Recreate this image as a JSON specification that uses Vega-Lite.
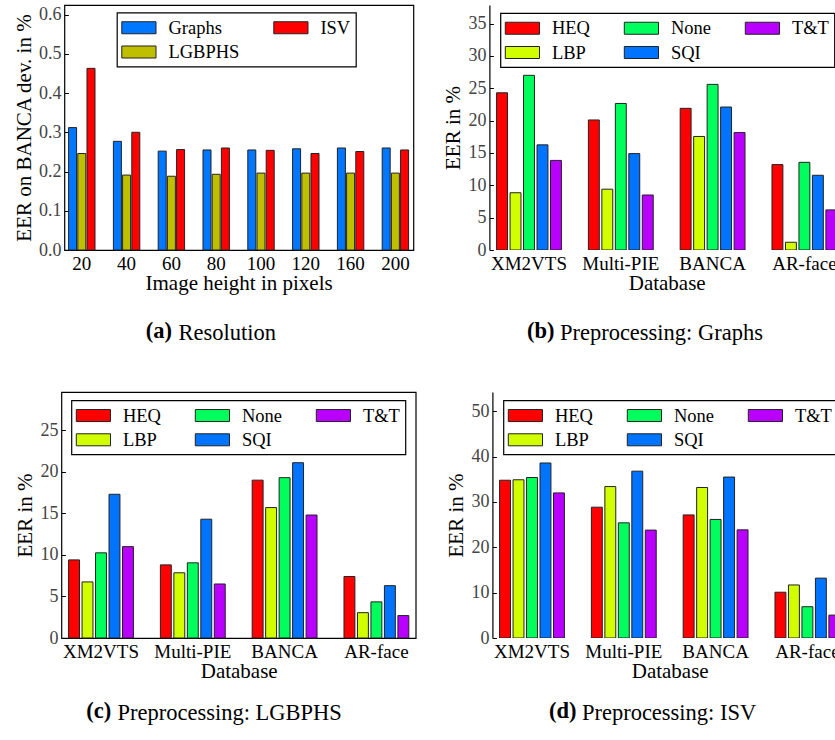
{
  "$schema": "https://vega.github.io/schema/vega-lite/v6.json",
  "padding": {"left": 12, "top": 4, "right": 0, "bottom": 0},
  "spacing": 45,
  "center": true,
  "resolve": {"scale": {"x": "independent", "y": "independent", "xOffset": "independent", "color": "independent"}, "legend": {"color": "independent"}},
  "datasets": {
    "resolution": [
      {"height": "20", "method": "Graphs", "eer": 0.312}, {"height": "20", "method": "LGBPHS", "eer": 0.246}, {"height": "20", "method": "ISV", "eer": 0.463},
      {"height": "40", "method": "Graphs", "eer": 0.277}, {"height": "40", "method": "LGBPHS", "eer": 0.191}, {"height": "40", "method": "ISV", "eer": 0.300},
      {"height": "60", "method": "Graphs", "eer": 0.252}, {"height": "60", "method": "LGBPHS", "eer": 0.188}, {"height": "60", "method": "ISV", "eer": 0.256},
      {"height": "80", "method": "Graphs", "eer": 0.255}, {"height": "80", "method": "LGBPHS", "eer": 0.193}, {"height": "80", "method": "ISV", "eer": 0.260},
      {"height": "100", "method": "Graphs", "eer": 0.255}, {"height": "100", "method": "LGBPHS", "eer": 0.196}, {"height": "100", "method": "ISV", "eer": 0.254},
      {"height": "120", "method": "Graphs", "eer": 0.258}, {"height": "120", "method": "LGBPHS", "eer": 0.196}, {"height": "120", "method": "ISV", "eer": 0.246},
      {"height": "160", "method": "Graphs", "eer": 0.260}, {"height": "160", "method": "LGBPHS", "eer": 0.196}, {"height": "160", "method": "ISV", "eer": 0.251},
      {"height": "200", "method": "Graphs", "eer": 0.260}, {"height": "200", "method": "LGBPHS", "eer": 0.196}, {"height": "200", "method": "ISV", "eer": 0.255}
    ],
    "graphs": [
      {"db": "XM2VTS", "method": "HEQ", "eer": 24.3}, {"db": "XM2VTS", "method": "LBP", "eer": 8.85}, {"db": "XM2VTS", "method": "None", "eer": 27.0}, {"db": "XM2VTS", "method": "SQI", "eer": 16.25}, {"db": "XM2VTS", "method": "T&T", "eer": 13.85},
      {"db": "Multi-PIE", "method": "HEQ", "eer": 20.1}, {"db": "Multi-PIE", "method": "LBP", "eer": 9.4}, {"db": "Multi-PIE", "method": "None", "eer": 22.65}, {"db": "Multi-PIE", "method": "SQI", "eer": 14.9}, {"db": "Multi-PIE", "method": "T&T", "eer": 8.5},
      {"db": "BANCA", "method": "HEQ", "eer": 21.9}, {"db": "BANCA", "method": "LBP", "eer": 17.55}, {"db": "BANCA", "method": "None", "eer": 25.6}, {"db": "BANCA", "method": "SQI", "eer": 22.1}, {"db": "BANCA", "method": "T&T", "eer": 18.15},
      {"db": "AR-face", "method": "HEQ", "eer": 13.2}, {"db": "AR-face", "method": "LBP", "eer": 1.2}, {"db": "AR-face", "method": "None", "eer": 13.55}, {"db": "AR-face", "method": "SQI", "eer": 11.55}, {"db": "AR-face", "method": "T&T", "eer": 6.2}
    ],
    "lgbphs": [
      {"db": "XM2VTS", "method": "HEQ", "eer": 9.4}, {"db": "XM2VTS", "method": "LBP", "eer": 6.75}, {"db": "XM2VTS", "method": "None", "eer": 10.25}, {"db": "XM2VTS", "method": "SQI", "eer": 17.3}, {"db": "XM2VTS", "method": "T&T", "eer": 11.0},
      {"db": "Multi-PIE", "method": "HEQ", "eer": 8.8}, {"db": "Multi-PIE", "method": "LBP", "eer": 7.85}, {"db": "Multi-PIE", "method": "None", "eer": 9.05}, {"db": "Multi-PIE", "method": "SQI", "eer": 14.3}, {"db": "Multi-PIE", "method": "T&T", "eer": 6.5},
      {"db": "BANCA", "method": "HEQ", "eer": 19.0}, {"db": "BANCA", "method": "LBP", "eer": 15.7}, {"db": "BANCA", "method": "None", "eer": 19.3}, {"db": "BANCA", "method": "SQI", "eer": 21.1}, {"db": "BANCA", "method": "T&T", "eer": 14.8},
      {"db": "AR-face", "method": "HEQ", "eer": 7.4}, {"db": "AR-face", "method": "LBP", "eer": 3.05}, {"db": "AR-face", "method": "None", "eer": 4.35}, {"db": "AR-face", "method": "SQI", "eer": 6.3}, {"db": "AR-face", "method": "T&T", "eer": 2.7}
    ],
    "isv": [
      {"db": "XM2VTS", "method": "HEQ", "eer": 34.8}, {"db": "XM2VTS", "method": "LBP", "eer": 34.9}, {"db": "XM2VTS", "method": "None", "eer": 35.4}, {"db": "XM2VTS", "method": "SQI", "eer": 38.6}, {"db": "XM2VTS", "method": "T&T", "eer": 32.0},
      {"db": "Multi-PIE", "method": "HEQ", "eer": 28.85}, {"db": "Multi-PIE", "method": "LBP", "eer": 33.4}, {"db": "Multi-PIE", "method": "None", "eer": 25.4}, {"db": "Multi-PIE", "method": "SQI", "eer": 36.8}, {"db": "Multi-PIE", "method": "T&T", "eer": 23.8},
      {"db": "BANCA", "method": "HEQ", "eer": 27.15}, {"db": "BANCA", "method": "LBP", "eer": 33.2}, {"db": "BANCA", "method": "None", "eer": 26.15}, {"db": "BANCA", "method": "SQI", "eer": 35.5}, {"db": "BANCA", "method": "T&T", "eer": 23.85},
      {"db": "AR-face", "method": "HEQ", "eer": 10.1}, {"db": "AR-face", "method": "LBP", "eer": 11.7}, {"db": "AR-face", "method": "None", "eer": 6.9}, {"db": "AR-face", "method": "SQI", "eer": 13.2}, {"db": "AR-face", "method": "T&T", "eer": 5.05}
    ]
  },
  "vconcat": [
    {
      "spacing": 19,
      "resolve": {"scale": {"x": "independent", "y": "independent", "xOffset": "independent", "color": "independent"}, "legend": {"color": "independent"}},
      "hconcat": [
        {
          "title": {"text": "(a)", "fontWeight": "bold", "dx": 133, "dy": -29},
          "vconcat": [
            {
              "width": 349, "height": 245,
              "data": {"name": "resolution"},
              "title": {"text": "Resolution", "dx": 165, "offset": 29},
              "mark": {"type": "bar", "stroke": "#222", "strokeWidth": 1},
              "encoding": {
                "x": {"field": "height", "type": "nominal", "sort": ["20", "40", "60", "80", "100", "120", "160", "200"],
                  "scale": {"range": [-5, 353.4], "paddingInner": 0, "paddingOuter": 0},
                  "axis": {"title": "Image height in pixels", "labelAngle": 0, "ticks": false, "domain": false, "labelPadding": 4, "titlePadding": -1}},
                "xOffset": {"field": "method", "type": "nominal", "sort": ["Graphs", "LGBPHS", "ISV"], "scale": {"paddingInner": 0.13, "paddingOuter": 1.1}},
                "y": {"field": "eer", "type": "quantitative", "scale": {"domain": [0, 0.6245], "nice": false},
                  "axis": {"title": "EER on BANCA dev. in %", "values": [0, 0.1, 0.2, 0.3, 0.4, 0.5, 0.6], "format": ".1f", "tickSize": -4, "labelPadding": 7.5, "domain": false, "grid": false}},
                "color": {"field": "method", "type": "nominal",
                  "scale": {"domain": ["Graphs", "LGBPHS", "ISV"], "range": ["#0077ff", "#bfbf00", "#ff0000"]},
                  "legend": {"orient": "none", "legendX": 52.5, "legendY": 7.5, "columns": 2, "title": null}}
              }
            }
          ]
        },
        {
          "title": {"text": "(b)", "fontWeight": "bold", "dx": 84, "dy": -29},
          "vconcat": [
            {
              "width": 346, "height": 245,
              "view": {"stroke": null},
              "title": {"text": "Preprocessing: Graphs", "dx": 117, "offset": 29},
              "layer": [
                {
                  "data": {"name": "graphs"},
                  "mark": {"type": "bar", "stroke": "#222", "strokeWidth": 1, "clip": true},
                  "encoding": {
                    "x": {"field": "db", "type": "nominal", "sort": ["XM2VTS", "Multi-PIE", "BANCA", "AR-face"],
                      "scale": {"range": [-6.3, 360.9], "paddingInner": 0, "paddingOuter": 0},
                      "axis": {"title": "Database", "labelAngle": 0, "ticks": false, "domain": false, "labelPadding": 4, "titlePadding": -1}},
                    "xOffset": {"field": "method", "type": "nominal", "sort": ["HEQ", "LBP", "None", "SQI", "T&T"], "scale": {"paddingInner": 0.19, "paddingOuter": 1.122}},
                    "y": {"field": "eer", "type": "quantitative", "scale": {"domain": [0, 37.87], "nice": false},
                      "axis": {"title": "EER in %", "values": [0, 5, 10, 15, 20, 25, 30, 35], "tickSize": -4, "labelPadding": 7.5, "domain": true, "grid": false}},
                    "color": {"field": "method", "type": "nominal",
                      "scale": {"domain": ["HEQ", "LBP", "None", "SQI", "T&T"], "range": ["#ff0000", "#d1ff00", "#00ff5c", "#0074ff", "#b900ff"]},
                      "legend": {"orient": "none", "legendX": 11, "legendY": 8, "columns": 3, "title": null}}
                  }
                },
                {"mark": {"type": "rule", "color": "black", "strokeWidth": 1.2},
                  "encoding": {"y": {"datum": 37.87, "type": "quantitative", "scale": {"domain": [0, 37.87], "nice": false},
                    "axis": {"title": "EER in %", "values": [0, 5, 10, 15, 20, 25, 30, 35], "tickSize": -4, "labelPadding": 7.5, "domain": true, "grid": false}}}},
                {"mark": {"type": "rule", "color": "black", "strokeWidth": 1.2},
                  "encoding": {"y": {"datum": 0, "type": "quantitative", "scale": {"domain": [0, 37.87], "nice": false},
                    "axis": {"title": "EER in %", "values": [0, 5, 10, 15, 20, 25, 30, 35], "tickSize": -4, "labelPadding": 7.5, "domain": true, "grid": false}}}}
              ]
            }
          ]
        }
      ]
    },
    {
      "spacing": 16,
      "resolve": {"scale": {"x": "independent", "y": "independent", "xOffset": "independent", "color": "independent"}, "legend": {"color": "independent"}},
      "hconcat": [
        {
          "title": {"text": "(c)", "fontWeight": "bold", "dx": 72, "dy": -29},
          "vconcat": [
            {
              "width": 354.3, "height": 246,
              "data": {"name": "lgbphs"},
              "title": {"text": "Preprocessing: LGBPHS", "dx": 102.6, "offset": 21},
              "mark": {"type": "bar", "stroke": "#222", "strokeWidth": 1},
              "encoding": {
                "x": {"field": "db", "type": "nominal", "sort": ["XM2VTS", "Multi-PIE", "BANCA", "AR-face"],
                  "scale": {"range": [-6.3, 360.9], "paddingInner": 0, "paddingOuter": 0},
                  "axis": {"title": "Database", "labelAngle": 0, "ticks": false, "domain": false, "labelPadding": 4, "titlePadding": -1}},
                "xOffset": {"field": "method", "type": "nominal", "sort": ["HEQ", "LBP", "None", "SQI", "T&T"], "scale": {"paddingInner": 0.19, "paddingOuter": 1.122}},
                "y": {"field": "eer", "type": "quantitative", "scale": {"domain": [0, 29.61], "nice": false},
                  "axis": {"title": "EER in %", "values": [0, 5, 10, 15, 20, 25], "tickSize": -4, "labelPadding": 7.5, "domain": false, "grid": false}},
                "color": {"field": "method", "type": "nominal",
                  "scale": {"domain": ["HEQ", "LBP", "None", "SQI", "T&T"], "range": ["#ff0000", "#d1ff00", "#00ff5c", "#0074ff", "#b900ff"]},
                  "legend": {"orient": "none", "legendX": 10, "legendY": 8.3, "columns": 3, "title": null}}
              }
            }
          ]
        },
        {
          "title": {"text": "(d)", "fontWeight": "bold", "dx": 103, "dy": -29},
          "vconcat": [
            {
              "width": 346, "height": 246,
              "view": {"stroke": null},
              "title": {"text": "Preprocessing: ISV", "dx": 136, "offset": 21},
              "layer": [
                {
                  "data": {"name": "isv"},
                  "mark": {"type": "bar", "stroke": "#222", "strokeWidth": 1, "clip": true},
                  "encoding": {
                    "x": {"field": "db", "type": "nominal", "sort": ["XM2VTS", "Multi-PIE", "BANCA", "AR-face"],
                      "scale": {"range": [-6.3, 360.9], "paddingInner": 0, "paddingOuter": 0},
                      "axis": {"title": "Database", "labelAngle": 0, "ticks": false, "domain": false, "labelPadding": 4, "titlePadding": -1}},
                    "xOffset": {"field": "method", "type": "nominal", "sort": ["HEQ", "LBP", "None", "SQI", "T&T"], "scale": {"paddingInner": 0.19, "paddingOuter": 1.122}},
                    "y": {"field": "eer", "type": "quantitative", "scale": {"domain": [0, 54.26], "nice": false},
                      "axis": {"title": "EER in %", "values": [0, 10, 20, 30, 40, 50], "tickSize": -4, "labelPadding": 7.5, "domain": true, "grid": false}},
                    "color": {"field": "method", "type": "nominal",
                      "scale": {"domain": ["HEQ", "LBP", "None", "SQI", "T&T"], "range": ["#ff0000", "#d1ff00", "#00ff5c", "#0074ff", "#b900ff"]},
                      "legend": {"orient": "none", "legendX": 11, "legendY": 8.3, "columns": 3, "title": null}}
                  }
                },
                {"mark": {"type": "rule", "color": "black", "strokeWidth": 1.2},
                  "encoding": {"y": {"datum": 54.26, "type": "quantitative", "scale": {"domain": [0, 54.26], "nice": false},
                    "axis": {"title": "EER in %", "values": [0, 10, 20, 30, 40, 50], "tickSize": -4, "labelPadding": 7.5, "domain": true, "grid": false}}}},
                {"mark": {"type": "rule", "color": "black", "strokeWidth": 1.2},
                  "encoding": {"y": {"datum": 0, "type": "quantitative", "scale": {"domain": [0, 54.26], "nice": false},
                    "axis": {"title": "EER in %", "values": [0, 10, 20, 30, 40, 50], "tickSize": -4, "labelPadding": 7.5, "domain": true, "grid": false}}}}
              ]
            }
          ]
        }
      ]
    }
  ],
  "config": {
    "font": "Liberation Serif",
    "view": {"stroke": "black", "strokeWidth": 1.2},
    "title": {"font": "Liberation Serif", "fontSize": 22.5, "fontWeight": "normal", "color": "black", "orient": "bottom", "anchor": "start"},
    "axis": {"labelFont": "Liberation Serif", "titleFont": "Liberation Serif", "labelColor": "black", "titleColor": "black", "titleFontWeight": "normal", "titleFontSize": 21, "domainColor": "black", "domainWidth": 1.2, "tickColor": "black", "tickWidth": 1},
    "axisX": {"labelFontSize": 19},
    "axisY": {"labelFontSize": 18, "labelColor": "#444", "titlePadding": 4},
    "legend": {"symbolType": "M-1.8,-0.632H1.8V0.632H-1.8Z", "symbolSize": 361, "symbolOffset": 7, "symbolStrokeColor": "#222", "symbolStrokeWidth": 1, "symbolOpacity": 1,
      "labelFont": "Liberation Serif", "labelFontSize": 18.5, "labelColor": "black", "labelOffset": 19.5, "columnPadding": 31, "rowPadding": 4.5,
      "padding": 5, "strokeColor": "black", "strokeWidth": 1.2, "fillColor": "white", "cornerRadius": 0}
  }
}
